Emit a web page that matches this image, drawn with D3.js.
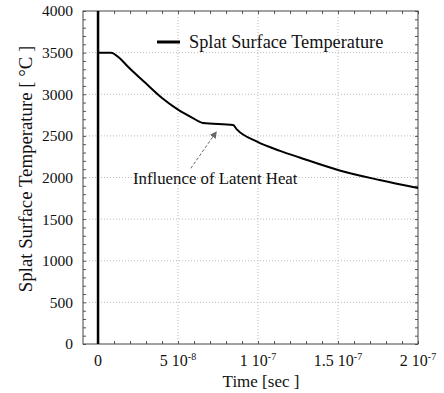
<!DOCTYPE html>
<html><head><meta charset="utf-8">
<script src="https://cdn.jsdelivr.net/npm/d3@7"></script>
<style>
html,body{margin:0;padding:0;background:#fff;}
svg{display:block;font-family:"Liberation Serif","Times New Roman",serif;}
</style></head>
<body>
<script>
// ---- data ----
const timeSec = [0, 8e-9, 13.75e-9, 18.75e-9, 29.4e-9, 40e-9, 50e-9, 58.75e-9, 65.6e-9, 84.4e-9, 86.9e-9, 99.4e-9, 113.75e-9, 126e-9, 151e-9, 176e-9, 200e-9];
const surfaceTemp = [3500, 3500, 3430, 3330, 3140, 2955, 2815, 2720, 2655, 2630, 2575, 2430, 2320, 2240, 2085, 1970, 1874];
const yTickValues = [0, 500, 1000, 1500, 2000, 2500, 3000, 3500, 4000];
const yTickLabels = ["0", "500", "1000", "1500", "2000", "2500", "3000", "3500", "4000"];
const xTickValues = [0, 5e-8, 1e-7, 1.5e-7, 2e-7];
const xTickMantissa = ["0", "5 10", "1 10", "1.5 10", "2 10"];
const xTickExponent = ["", "-8", "-7", "-7", "-7"];
const seriesName = "Splat Surface Temperature";
const annotationText = "Influence of Latent Heat";
const annotationTarget = [74e-9, 2550];
const annotationSource = [58e-9, 2110];
const xTitle = "Time [sec ]";
const yTitle = "Splat Surface Temperature [ °C ]";

// ---- layout ----
const W = 444, H = 393;
const L = 83, R = 418, T = 11, B = 344;
const x = d3.scaleLinear().domain([-0.94e-8, 2e-7]).range([L, R]);
const y = d3.scaleLinear().domain([0, 4000]).range([B, T]);

const svg = d3.select("body").append("svg").attr("width", W).attr("height", H);

// grid
const g = svg.append("g");
g.selectAll("line.gx").data(xTickValues.filter(v => v > 0 && v < 2e-7)).enter().append("line")
  .attr("x1", d => x(d)).attr("x2", d => x(d)).attr("y1", T).attr("y2", B)
  .attr("stroke", "#aaa").attr("stroke-width", 0.8).attr("stroke-dasharray", "1,2");
g.selectAll("line.gy").data(yTickValues.filter(v => v > 0 && v < 4000)).enter().append("line")
  .attr("x1", L).attr("x2", R).attr("y1", d => y(d)).attr("y2", d => y(d))
  .attr("stroke", "#aaa").attr("stroke-width", 0.8).attr("stroke-dasharray", "1,2");

// minor ticks (inward) via axes
const yMinor = d3.range(0, 4001, 100);
const xMinor = d3.range(0, 21).map(i => i * 1e-8);
svg.append("g").attr("transform", `translate(${L},0)`)
  .call(d3.axisRight(y).tickValues(yMinor).tickSize(3).tickFormat(""))
  .call(s => s.select(".domain").remove()).selectAll("line").attr("stroke", "#555");
svg.append("g").attr("transform", `translate(${R},0)`)
  .call(d3.axisLeft(y).tickValues(yMinor).tickSize(3).tickFormat(""))
  .call(s => s.select(".domain").remove()).selectAll("line").attr("stroke", "#555");
svg.append("g").attr("transform", `translate(0,${B})`)
  .call(d3.axisTop(x).tickValues(xMinor).tickSize(3).tickFormat(""))
  .call(s => s.select(".domain").remove()).selectAll("line").attr("stroke", "#555");
svg.append("g").attr("transform", `translate(0,${T})`)
  .call(d3.axisBottom(x).tickValues(xMinor).tickSize(3).tickFormat(""))
  .call(s => s.select(".domain").remove()).selectAll("line").attr("stroke", "#555");

// frame
svg.append("rect").attr("x", L).attr("y", T).attr("width", R - L).attr("height", B - T)
  .attr("fill", "none").attr("stroke", "#444").attr("stroke-width", 1);

// y tick labels
svg.append("g").selectAll("text").data(yTickValues).enter().append("text")
  .attr("x", L - 10).attr("y", d => y(d)).attr("dy", "0.35em")
  .attr("text-anchor", "end").attr("font-size", 15.5).attr("fill", "#111")
  .text((d, i) => yTickLabels[i]);

// x tick labels
const xl = svg.append("g").selectAll("text").data(xTickValues).enter().append("text")
  .attr("x", d => x(d)).attr("y", 366)
  .attr("text-anchor", "middle").attr("font-size", 16).attr("fill", "#111");
xl.append("tspan").text((d, i) => xTickMantissa[i]);
xl.append("tspan").attr("dy", -6).attr("font-size", 10).text((d, i) => xTickExponent[i]);

// axis titles
svg.append("text").attr("x", 261).attr("y", 387).attr("text-anchor", "middle")
  .attr("font-size", 17).attr("fill", "#111").text(xTitle);
svg.append("text").attr("transform", `translate(32,169) rotate(-90)`)
  .attr("text-anchor", "middle").attr("font-size", 18.8).attr("fill", "#111").text(yTitle);

// thick line at t = 0
svg.append("line").attr("x1", x(0)).attr("x2", x(0)).attr("y1", y(0)).attr("y2", y(4000))
  .attr("stroke", "#000").attr("stroke-width", 2.5);

// curve
const line = d3.line().x((d, i) => x(timeSec[i])).y(d => y(d)).curve(d3.curveMonotoneX);
svg.append("path").attr("d", line(surfaceTemp)).attr("fill", "none")
  .attr("stroke", "#000").attr("stroke-width", 2);

// legend
svg.append("line").attr("x1", 157).attr("x2", 180).attr("y1", 42).attr("y2", 42)
  .attr("stroke", "#000").attr("stroke-width", 3);
svg.append("text").attr("x", 189).attr("y", 48).attr("font-size", 18.3).attr("fill", "#111").text(seriesName);

// annotation
svg.append("defs").append("marker").attr("id", "ah").attr("viewBox", "0 0 10 10")
  .attr("refX", 9).attr("refY", 5).attr("markerWidth", 7).attr("markerHeight", 7)
  .attr("orient", "auto").append("path").attr("d", "M0,0L10,5L0,10z").attr("fill", "#666");
svg.append("line").attr("x1", x(annotationSource[0])).attr("y1", y(annotationSource[1]))
  .attr("x2", x(annotationTarget[0])).attr("y2", y(annotationTarget[1]))
  .attr("stroke", "#666").attr("stroke-width", 1).attr("stroke-dasharray", "3,2")
  .attr("marker-end", "url(#ah)");
svg.append("text").attr("x", 133).attr("y", 184).attr("font-size", 16.8).attr("fill", "#111").text(annotationText);
</script>
</body></html>
